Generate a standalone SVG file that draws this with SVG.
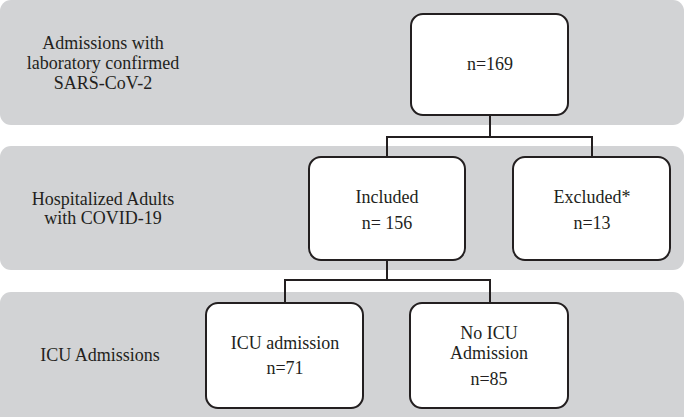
<svg xmlns="http://www.w3.org/2000/svg" width="685" height="417" viewBox="0 0 685 417">
<style>
.band{fill:#d2d3d5;stroke:none}
.box{fill:#ffffff;stroke:#231f20;stroke-width:2}
text{font-size:18px;fill:#231f20;text-anchor:middle}
.c{fill:none;stroke:#231f20;stroke-width:2}
</style>
<rect width="685" height="417" fill="#ffffff"/>
<g id="bands">
<rect class="band" x="0" y="0" width="684" height="125" rx="11"/>
<rect class="band" x="0" y="146" width="684" height="124" rx="11"/>
<rect class="band" x="0" y="292" width="684" height="135" rx="11"/>
</g>
<g id="labels" font-family="Liberation Serif, serif">
<text x="103" y="49">Admissions with</text>
<text x="103" y="69">laboratory confirmed</text>
<text x="103" y="89">SARS-CoV-2</text>
<text x="103" y="205">Hospitalized Adults</text>
<text x="103" y="224">with COVID-19</text>
<text x="100" y="361">ICU Admissions</text>
</g>
<g id="connectors">
<path class="c" d="M490,114 V137 M387,137 H592 M387,136 V157 M592,136 V157"/>
<path class="c" d="M387,260 V280 M285,280 H490 M285,279 V303 M490,279 V303"/>
</g>
<g id="n169" font-family="Liberation Serif, serif">
<rect class="box" x="411" y="14" width="157" height="101" rx="12"/>
<text x="490" y="70">n=169</text>
</g>
<g id="included" font-family="Liberation Serif, serif">
<rect class="box" x="309" y="157" width="156" height="103" rx="12"/>
<text x="387" y="203">Included</text>
<text x="387" y="229">n= 156</text>
</g>
<g id="excluded" font-family="Liberation Serif, serif">
<rect class="box" x="513" y="157" width="157" height="103" rx="12"/>
<text x="592" y="203">Excluded*</text>
<text x="592" y="229">n=13</text>
</g>
<g id="icu" font-family="Liberation Serif, serif">
<rect class="box" x="206" y="303" width="157" height="105" rx="12"/>
<text x="285" y="349">ICU admission</text>
<text x="285" y="374">n=71</text>
</g>
<g id="noicu" font-family="Liberation Serif, serif">
<rect class="box" x="410" y="303" width="158" height="105" rx="12"/>
<text x="489" y="339">No ICU</text>
<text x="489" y="359">Admission</text>
<text x="489" y="385">n=85</text>
</g>
</svg>
